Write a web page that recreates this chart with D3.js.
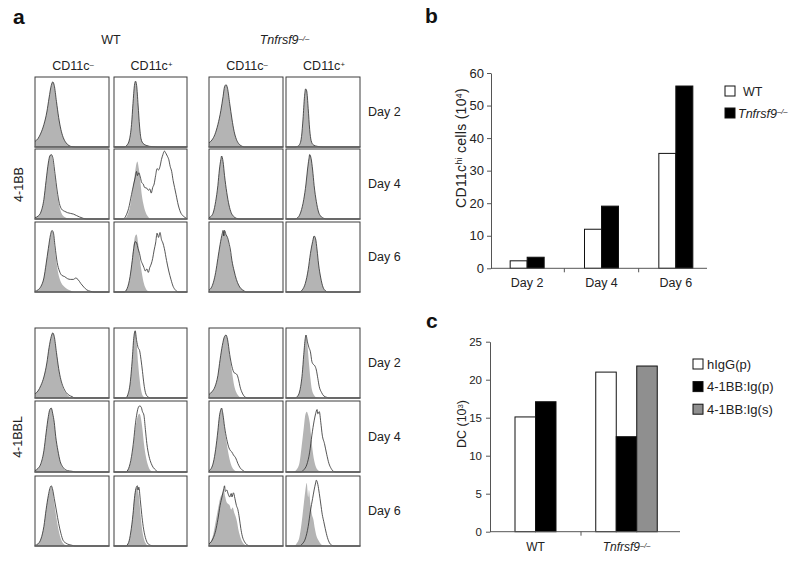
<!DOCTYPE html>
<html><head><meta charset="utf-8">
<script src="https://cdn.jsdelivr.net/npm/d3@7"></script>
<style>body{margin:0;background:#fff}svg{display:block;font-family:"Liberation Sans",Arial,sans-serif}</style>
</head><body><script>
// ---------- Panel a: histogram outlines ([x %, y %] of panel) ----------
// columns: WT CD11c−, WT CD11c+, Tnfrsf9−/− CD11c−, Tnfrsf9−/− CD11c+ ; null = stain overlaps control
const columnHeads = ["CD11c", "CD11c", "CD11c", "CD11c"];
const columnSups = ["–", "+", "–", "+"];
const genotypes = ["WT", "Tnfrsf9"];
const dayLabels = ["Day 2", "Day 4", "Day 6"];
const markers = ["4-1BB", "4-1BBL"];

const bbDay2Ctrl = [
  [[0,8],[4,12],[8,20],[12,32],[16,50],[19,70],[22,88],[24,93],[26,88],[29,65],[32,42],[35,25],[38,14],[42,6],[46,2],[50,0.5],[55,0],[100,0]],
  [[0,0],[14,0],[18,3],[21,10],[24,32],[26,62],[28,88],[29.5,94],[31,88],[33,60],[35,30],[37,12],[40,5],[45,2],[52,0.5],[60,0],[100,0]],
  [[0,6],[4,10],[8,18],[12,32],[16,52],[19,72],[21,86],[23,89],[25,84],[28,62],[31,40],[34,22],[37,11],[40,5],[44,1.5],[48,0],[100,0]],
  [[0,0],[12,0],[16,1],[19,5],[21,15],[23,40],[25,72],[26.5,83],[28,80],[30,55],[32,25],[34,9],[37,3],[42,1],[50,0],[100,0]]
];
const bbDay2Stain = [null, null, null, null];

const bbDay4Ctrl = [
  [[0,2],[4,4],[8,10],[12,28],[15,55],[18,80],[20,90],[22,92],[24,84],[27,60],[30,35],[33,18],[36,8],[40,3],[45,1],[50,0],[100,0]],
  [[0,0],[14,0],[18,5],[22,18],[25,38],[28,60],[30,75],[32,82],[34,72],[36,55],[38,35],[41,18],[44,8],[47,3],[50,0],[100,0]],
  [[0,2],[3,4],[6,10],[9,25],[12,48],[14,70],[16,85],[17,90],[19,82],[21,62],[24,38],[27,20],[30,9],[33,4],[37,1],[42,0],[100,0]],
  [[0,0],[12,0],[16,2],[20,10],[24,28],[27,50],[29,70],[31,86],[32,92],[34,86],[36,70],[38,48],[41,25],[44,10],[47,4],[51,1],[55,0],[100,0]]
];
const bbDay4Stain = [
  [[0,2],[4,4],[8,10],[12,28],[15,55],[18,80],[20,90],[22,92],[24,88],[27,65],[30,40],[33,22],[36,14],[40,11],[44,9],[48,8],[52,7],[56,5],[60,3],[65,1],[70,0],[100,0]],
  [[0,0],[13,0],[16,4],[20,15],[24,35],[27,50],[29,59],[31,68],[32,62],[34,66],[36,60],[38,52],[40,50],[42,45],[45,44],[47,41],[49,43],[51,37],[53,45],[55,50],[57,62],[59,72],[61,70],[63,75],[65,85],[67,92],[69,97],[71,94],[73,90],[75,85],[77,75],[79,68],[81,55],[83,45],[85,35],[88,20],[91,10],[95,4],[99,1],[100,0]],
  null, null
];

const bbDay6Ctrl = [
  [[0,1],[4,3],[8,8],[12,20],[15,40],[18,62],[21,80],[23,87],[25,82],[27,60],[30,35],[33,20],[36,12],[40,7],[44,4],[48,2],[52,0],[100,0]],
  [[0,0],[14,0],[18,5],[22,22],[25,48],[27,68],[29,80],[31,82],[33,70],[35,50],[38,28],[41,12],[44,4],[47,1],[50,0],[100,0]],
  [[0,3],[3,6],[6,14],[9,28],[12,48],[15,68],[18,82],[20,88],[22,84],[24,80],[26,72],[28,62],[31,45],[34,30],[37,18],[40,10],[43,5],[47,2],[50,0],[100,0]],
  [[0,0],[18,0],[22,3],[26,12],[30,32],[33,55],[36,72],[38,80],[40,76],[42,60],[44,40],[47,20],[50,7],[53,2],[56,0],[100,0]]
];
const bbDay6Stain = [
  [[0,1],[4,3],[8,8],[12,20],[15,40],[18,62],[21,82],[23,88],[25,84],[27,66],[30,42],[33,30],[36,24],[40,22],[44,19],[48,18],[52,18],[55,20],[58,18],[62,12],[66,7],[70,3],[75,1],[80,0],[100,0]],
  [[0,0],[14,0],[18,5],[22,22],[25,45],[27,62],[29,72],[31,70],[33,62],[35,55],[37,45],[39,40],[41,35],[43,30],[45,33],[47,28],[49,35],[51,40],[53,48],[55,60],[57,70],[59,84],[61,78],[63,85],[65,75],[67,70],[69,62],[72,45],[75,30],[78,18],[81,8],[84,3],[88,0],[100,0]],
  [[0,3],[3,6],[6,14],[9,28],[12,48],[15,68],[18,84],[19,88],[20,80],[21,88],[23,82],[25,78],[27,70],[29,60],[31,45],[34,30],[37,18],[40,10],[43,5],[47,2],[50,0],[100,0]],
  null
];

const bblDay2Ctrl = [
  [[0,6],[4,10],[8,18],[12,30],[16,50],[19,72],[22,88],[24,93],[26,88],[29,65],[32,42],[35,25],[38,14],[42,7],[46,2],[50,0.5],[54,0],[100,0]],
  [[0,0],[16,0],[19,5],[22,20],[25,55],[27,85],[29,96],[31,80],[33,50],[35,28],[37,12],[39,4],[42,1],[46,0],[100,0]],
  [[0,5],[4,9],[8,16],[12,32],[15,55],[18,75],[21,88],[23,90],[25,84],[28,60],[31,38],[34,18],[37,8],[40,3],[44,0.5],[48,0],[100,0]],
  [[0,0],[12,0],[16,3],[19,12],[22,35],[24,62],[26,85],[27,90],[29,75],[31,50],[33,28],[35,12],[38,4],[41,1],[45,0],[100,0]]
];
const bblDay2Stain = [
  [[0,6],[4,10],[8,18],[12,30],[16,50],[19,72],[22,88],[24,93],[26,88],[29,65],[32,42],[35,26],[38,16],[42,8],[46,4],[50,2],[54,0],[100,0]],
  [[0,0],[16,0],[19,5],[22,20],[25,55],[27,85],[29,96],[31,82],[33,72],[35,68],[37,55],[39,38],[41,20],[43,8],[46,2],[50,0],[100,0]],
  [[0,5],[4,9],[8,16],[12,32],[15,55],[18,75],[21,88],[23,90],[25,84],[28,62],[31,45],[34,36],[36,35],[38,33],[40,26],[42,16],[45,7],[48,2],[52,0],[100,0]],
  [[0,0],[12,0],[16,3],[19,12],[22,35],[24,62],[26,85],[27,90],[29,80],[31,72],[33,66],[35,52],[37,48],[39,46],[41,40],[43,28],[45,16],[48,8],[51,3],[55,1],[58,0],[100,0]]
];

const bblDay4Ctrl = [
  [[0,2],[4,5],[8,12],[12,30],[15,55],[18,78],[20,88],[22,90],[24,82],[26,70],[28,50],[31,30],[34,15],[37,7],[40,3],[44,1],[48,0],[100,0]],
  [[0,0],[16,0],[20,5],[24,20],[27,42],[29,60],[31,72],[33,80],[35,82],[37,75],[39,60],[41,40],[44,20],[47,8],[50,2],[54,0],[100,0]],
  [[0,2],[3,5],[6,14],[9,32],[12,58],[14,78],[16,88],[17,90],[19,80],[21,62],[24,40],[27,22],[30,10],[33,4],[37,1],[42,0],[100,0]],
  [[0,0],[10,0],[14,3],[18,12],[21,35],[24,62],[26,80],[28,85],[30,80],[32,70],[34,50],[36,30],[39,12],[42,4],[46,1],[50,0],[100,0]]
];
const bblDay4Stain = [
  [[0,2],[4,5],[8,12],[12,30],[15,55],[18,78],[20,88],[22,90],[24,82],[26,70],[28,50],[31,30],[34,15],[37,8],[40,4],[44,2],[50,1],[55,0],[100,0]],
  [[0,0],[16,0],[20,5],[24,22],[27,45],[29,65],[31,80],[33,90],[35,93],[37,92],[39,85],[41,80],[43,60],[45,40],[48,22],[51,12],[54,6],[57,3],[60,0],[100,0]],
  [[0,2],[3,5],[6,14],[9,32],[12,58],[14,78],[16,88],[17,90],[19,80],[21,64],[24,46],[27,34],[29,30],[31,28],[33,24],[36,20],[39,12],[42,6],[46,2],[50,0],[100,0]],
  [[0,0],[20,0],[24,3],[28,10],[32,28],[35,52],[38,72],[40,82],[42,88],[43,82],[45,85],[47,70],[49,52],[52,40],[55,25],[58,12],[61,5],[64,1],[68,0],[100,0]]
];

const bblDay6Ctrl = [
  [[0,1],[4,3],[8,10],[12,28],[15,52],[18,72],[20,80],[22,85],[24,78],[26,62],[29,40],[32,22],[35,10],[38,4],[42,1],[46,0],[100,0]],
  [[0,0],[16,0],[20,5],[23,20],[26,48],[28,70],[30,82],[32,84],[34,72],[36,50],[38,28],[41,10],[44,3],[48,0],[100,0]],
  [[0,3],[3,8],[6,18],[9,35],[12,52],[15,68],[18,75],[20,80],[22,70],[24,62],[26,60],[28,58],[30,52],[32,55],[34,48],[36,42],[38,34],[40,22],[42,14],[45,6],[48,2],[52,0],[100,0]],
  [[0,0],[10,0],[14,3],[18,12],[21,32],[24,60],[26,78],[28,90],[30,70],[31,80],[33,60],[35,45],[37,38],[39,25],[41,15],[44,8],[47,3],[50,1],[54,0],[100,0]]
];
const bblDay6Stain = [
  [[0,1],[4,3],[8,10],[12,28],[15,52],[18,72],[20,82],[22,86],[24,80],[26,68],[29,50],[32,32],[35,18],[38,8],[42,4],[46,2],[50,1],[54,0],[100,0]],
  [[0,0],[16,0],[20,5],[23,20],[26,45],[28,68],[30,82],[32,86],[33,80],[34,84],[36,66],[38,45],[40,28],[43,12],[46,4],[50,1],[54,0],[100,0]],
  [[0,3],[3,6],[6,12],[9,22],[12,38],[15,58],[18,72],[20,82],[21,86],[22,78],[24,80],[26,74],[28,70],[30,75],[31,70],[33,76],[35,68],[37,58],[39,52],[41,40],[43,25],[45,14],[48,6],[51,2],[55,0],[100,0]],
  [[0,0],[18,0],[22,3],[26,10],[30,28],[33,50],[36,68],[38,80],[40,90],[41,94],[43,88],[45,75],[47,60],[49,45],[51,35],[53,25],[56,12],[59,4],[62,1],[65,0],[100,0]]
];

// ---------- Panel b ----------
const bDays = ["Day 2", "Day 4", "Day 6"];
const bSeries = ["WT", "Tnfrsf9"];
const bWT = [2.3, 12.0, 35.3];
const bKO = [3.4, 19.1, 56.0];
const bTicks = [0, 10, 20, 30, 40, 50, 60];

// ---------- Panel c ----------
const cGroups = ["WT", "Tnfrsf9"];
const cSeries = ["hIgG(p)", "4-1BB:Ig(p)", "4-1BB:Ig(s)"];
const cHIgG = [15.1, 21.0];
const cIgP = [17.1, 12.5];
const cIgS = [null, 21.8];
const cTicks = [0, 5, 10, 15, 20, 25];

// ================= drawing =================
const TXT = "#222";
const svg = d3.select("body").append("svg").attr("width", 800).attr("height", 562);

function supText(sel, parts) {
  parts.forEach(([t, sup, it]) => {
    const ts = sel.append("tspan").text(t);
    if (sup) ts.attr("font-size", "0.62em").attr("dy", "-0.45em");
    if (it) ts.attr("font-style", "italic");
  });
}
function fixSup(sel) {
  sel.selectAll("tspan").each(function (d, i, n) {
    const prev = n[i - 1];
    if (prev && prev.getAttribute("dy") && !this.getAttribute("dy")) d3.select(this).attr("dy", "0.28em");
  });
}

// panel letters
[["a", 13, 24], ["b", 425, 23], ["c", 426, 328]].forEach(([t, x, y]) =>
  svg.append("text").attr("x", x).attr("y", y).attr("font-size", 21).attr("font-weight", "bold").attr("fill", "#111").text(t));

// ---- panel a ----
const colX = [[35, 109], [114, 187], [209, 283], [286, 360]];
const groupRows = [[[77, 147], [149, 219], [222, 292]], [[328, 398], [401, 472], [476, 546]]];
const ctrlSets = [[bbDay2Ctrl, bbDay4Ctrl, bbDay6Ctrl], [bblDay2Ctrl, bblDay4Ctrl, bblDay6Ctrl]];
const stainSets = [[bbDay2Stain, bbDay4Stain, bbDay6Stain], [bblDay2Stain, bblDay4Stain, bblDay6Stain]];

const ga = svg.append("g");
ga.append("text").attr("x", (colX[0][0] + colX[1][1]) / 2).attr("y", 44).attr("text-anchor", "middle")
  .attr("font-size", 12.5).attr("fill", TXT).text(genotypes[0]);
{
  const t = ga.append("text").attr("x", (colX[2][0] + colX[3][1]) / 2).attr("y", 44).attr("text-anchor", "middle")
    .attr("font-size", 12.5).attr("fill", TXT);
  supText(t, [[genotypes[1], false, true], ["–/–", true, true]]);
}
columnHeads.forEach((h, i) => {
  const t = ga.append("text").attr("x", (colX[i][0] + colX[i][1]) / 2 + 1).attr("y", 70).attr("text-anchor", "middle")
    .attr("font-size", 12.5).attr("fill", TXT);
  supText(t, [[h], [columnSups[i], true]]);
});

groupRows.forEach((rows, gi) => {
  rows.forEach(([y0, y1], ri) => {
    colX.forEach(([x0, x1], ci) => {
      const ctrl = ctrlSets[gi][ri][ci];
      const stain = stainSets[gi][ri][ci] || ctrl;
      const x = d3.scaleLinear([0, 100], [x0, x1]);
      const y = d3.scaleLinear([0, 100], [y1, y0]);
      const area = d3.area().x(d => x(d[0])).y0(y(0)).y1(d => y(d[1])).curve(d3.curveMonotoneX);
      const line = d3.line().x(d => x(d[0])).y(d => y(d[1])).curve(d3.curveMonotoneX);
      ga.append("path").attr("d", area(ctrl)).attr("fill", "#b4b4b4");
      ga.append("path").attr("d", line(stain)).attr("fill", "none").attr("stroke", "#2b2b2b").attr("stroke-width", 0.8);
      ga.append("rect").attr("x", x0).attr("y", y0).attr("width", x1 - x0).attr("height", y1 - y0)
        .attr("fill", "none").attr("stroke", "#3c3c3c").attr("stroke-width", 1);
      ga.append("line").attr("x1", x0 - 0.5).attr("x2", x1 + 0.5).attr("y1", y1).attr("y2", y1)
        .attr("stroke", "#666").attr("stroke-width", 1.4);
    });
    ga.append("text").attr("x", 368).attr("y", (y0 + y1) / 2).attr("dy", "0.35em").attr("font-size", 12.5)
      .attr("fill", TXT).text(dayLabels[ri]);
  });
  const cy = (rows[0][0] + rows[2][1]) / 2;
  ga.append("text").attr("transform", `translate(${gi ? 22 : 23},${cy}) rotate(-90)`).attr("text-anchor", "middle")
    .attr("font-size", 12.5).attr("fill", TXT).text(markers[gi]);
});
ga.selectAll("text").each(function () { fixSup(d3.select(this)); });

// ---- panel b ----
{
  const g = svg.append("g");
  const y = d3.scaleLinear([0, 60], [268.3, 73]);
  const x = d3.scaleBand(bDays, [490, 713]);
  const inner = d3.scaleBand(bSeries, [-17, 17]);
  const vals = [bWT, bKO];
  const fills = ["#fff", "#000"];
  bSeries.forEach((s, si) => {
    g.selectAll(null).data(bDays).join("rect")
      .attr("x", (d, i) => x(d) + x.bandwidth() / 2 + inner(s))
      .attr("width", inner.bandwidth())
      .attr("y", (d, i) => y(vals[si][i]))
      .attr("height", (d, i) => y(0) - y(vals[si][i]))
      .attr("fill", fills[si]).attr("stroke", "#111").attr("stroke-width", 1);
  });
  const ax = g.append("g").attr("transform", "translate(491,0)")
    .call(d3.axisLeft(y).tickValues(bTicks).tickSize(4).tickSizeOuter(0).tickPadding(3));
  ax.select(".domain").attr("stroke", "#555");
  ax.selectAll(".tick line").attr("stroke", "#555");
  ax.selectAll("text").attr("font-size", 13).attr("fill", TXT).attr("font-family", "Liberation Sans, Arial, sans-serif");
  g.append("line").attr("x1", 491).attr("x2", 707).attr("y1", y(0)).attr("y2", y(0)).attr("stroke", "#555");
  bDays.slice(1).forEach(d => g.append("line").attr("x1", x(d)).attr("x2", x(d)).attr("y1", y(0)).attr("y2", y(0) + 4).attr("stroke", "#555"));
  bDays.forEach(d => g.append("text").attr("x", x(d) + x.bandwidth() / 2).attr("y", 287).attr("text-anchor", "middle")
    .attr("font-size", 12.5).attr("fill", TXT).text(d));
  const yl = g.append("text").attr("transform", "translate(466,148) rotate(-90)").attr("text-anchor", "middle")
    .attr("font-size", 14).attr("letter-spacing", 0.3).attr("fill", TXT);
  supText(yl, [["CD11c"], ["hi", true], [" cells (10"], ["4", true], [")"]]);
  fixSup(yl);
  bSeries.forEach((s, i) => {
    const ly = 91 + i * 22;
    g.append("rect").attr("x", 725).attr("y", ly - 5).attr("width", 10).attr("height", 10)
      .attr("fill", fills[i]).attr("stroke", "#111");
    const t = g.append("text").attr("x", i ? 738 : 743).attr("y", ly).attr("dy", "0.36em").attr("font-size", 12.5).attr("fill", TXT);
    if (i) { supText(t, [[s, false, true], ["–/–", true, true]]); fixSup(t); } else t.text(s);
  });
}

// ---- panel c ----
{
  const g = svg.append("g");
  const y = d3.scaleLinear([0, 25], [531.7, 341.7]);
  const x = d3.scaleBand(cGroups, [490, 672]);
  const vals = [cHIgG, cIgP, cIgS];
  const fills = ["#fff", "#000", "#8f8f8f"];
  const bw = 20.5;
  cGroups.forEach((grp, gi) => {
    const present = cSeries.map((s, si) => ({ si, v: vals[si][gi] })).filter(d => d.v != null);
    const start = x(grp) + x.bandwidth() / 2 - present.length * bw / 2;
    g.selectAll(null).data(present).join("rect")
      .attr("x", (d, k) => start + k * bw).attr("width", bw)
      .attr("y", d => y(d.v)).attr("height", d => y(0) - y(d.v))
      .attr("fill", d => fills[d.si]).attr("stroke", "#111").attr("stroke-width", 1);
  });
  const ax = g.append("g").attr("transform", "translate(490,0)")
    .call(d3.axisLeft(y).tickValues(cTicks).tickSize(4).tickSizeOuter(0).tickPadding(4));
  ax.select(".domain").attr("stroke", "#555");
  ax.selectAll(".tick line").attr("stroke", "#555");
  ax.selectAll("text").attr("font-size", 11.5).attr("fill", TXT).attr("font-family", "Liberation Sans, Arial, sans-serif");
  g.append("line").attr("x1", 490).attr("x2", 680).attr("y1", y(0)).attr("y2", y(0)).attr("stroke", "#555");
  g.append("line").attr("x1", x(cGroups[1])).attr("x2", x(cGroups[1])).attr("y1", y(0)).attr("y2", y(0) + 4).attr("stroke", "#555");
  cGroups.forEach((d, i) => {
    const t = g.append("text").attr("x", x(d) + x.bandwidth() / 2).attr("y", 551).attr("text-anchor", "middle")
      .attr("font-size", 12).attr("fill", TXT);
    if (i) { supText(t, [[d, false, true], ["–/–", true, true]]); fixSup(t); } else t.text(d);
  });
  const yl = g.append("text").attr("transform", "translate(466,424) rotate(-90)").attr("text-anchor", "middle")
    .attr("font-size", 12.5).attr("fill", TXT);
  supText(yl, [["DC (10"], ["3", true], [")"]]);
  fixSup(yl);
  cSeries.forEach((s, i) => {
    const ly = 364 + i * 22.6;
    g.append("rect").attr("x", 693).attr("y", ly - 5).attr("width", 10).attr("height", 10)
      .attr("fill", fills[i]).attr("stroke", "#111");
    g.append("text").attr("x", 707).attr("y", ly).attr("dy", "0.36em").attr("font-size", 13).attr("fill", TXT).text(s);
  });
}
</script></body></html>
